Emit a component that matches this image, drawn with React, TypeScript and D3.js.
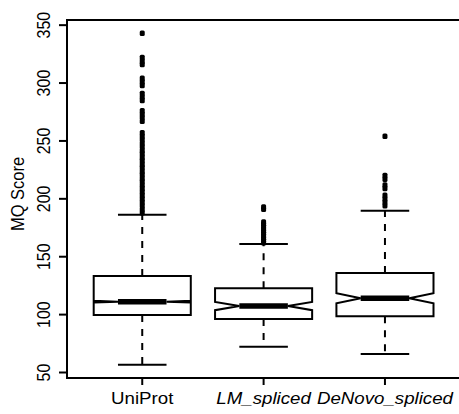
import React from 'react';
import * as d3 from 'd3';

const categories = ['UniProt', 'LM_spliced', 'DeNovo_spliced'];
const italicLabel = [false, true, true];
const whiskerLow = [56.7, 72.3, 66.0];
const q1 = [99.7, 96.2, 98.5];
const median = [111.2, 107.4, 114.1];
const q3 = [133.3, 122.7, 136.0];
const whiskerHigh = [186.3, 161.0, 189.7];
const notchLow = [110.5, 103.8, 109.8];
const notchHigh = [111.9, 111.0, 118.4];

const outliersUniProt = [
  343, 322, 319, 316, 304, 301, 298, 291, 288, 285, 276, 273, 270, 267,
  257, 254, 251, 248, 245, 242, 239, 236, 233, 230, 227, 224, 221, 218,
  215, 212, 209, 206, 203, 200, 197, 194, 191, 188,
];
const outliersLM = [193, 191, 180, 178, 176, 174, 172, 170, 168, 166, 164, 162];
const outliersDeNovo = [254, 220, 217, 212, 209, 203, 200, 197, 194];
const outliers = [outliersUniProt, outliersLM, outliersDeNovo];

const yTicks = [50, 100, 150, 200, 250, 300, 350];

const width = 459;
const height = 414;
const margin = { top: 20, left: 67, bottom: 36 };
const font = '"Liberation Sans", Arial, Helvetica, sans-serif';
// the original image is a little wider than tall, so glyphs look stretched
const stretch = 'scale(1.1,1)';

const App = () => {
  // R-style axis limits: data range widened by 4% on each side
  const all = [...whiskerLow, ...whiskerHigh, ...outliers.flat()];
  const [lo, hi] = d3.extent(all) as [number, number];
  const pad = (hi - lo) * 0.04;

  const y = d3.scaleLinear().domain([lo - pad, hi + pad]).range([height - margin.bottom, margin.top]);
  const x = d3.scaleLinear().domain([0.38, 3.62]).range([margin.left, 460.2]);

  const halfW = 0.4;
  const nf = 0.5;
  const plotBottom = height - margin.bottom;

  return (
    <svg width={width} height={height} style={{ position: 'absolute', left: 0, top: 0, background: 'white' }}>
      {categories.map((c, i) => {
        const at = i + 1;
        const xs = [-1, 1, 1, nf, 1, 1, -1, -1, -nf, -1].map((f) => x(at + f * halfW));
        const ys = [q1[i], q1[i], notchLow[i], median[i], notchHigh[i], q3[i], q3[i], notchHigh[i], median[i], notchLow[i]].map((v) => y(v));
        const boxPath = d3.line()(xs.map((xx, k) => [xx, ys[k]] as [number, number])) + 'Z';
        const cx = x(at);
        return (
          <g key={c}>
            <line x1={cx} x2={cx} y1={y(q3[i])} y2={y(whiskerHigh[i])} stroke="black" strokeWidth={2} strokeDasharray="7,7" />
            <line x1={cx} x2={cx} y1={y(q1[i])} y2={y(whiskerLow[i])} stroke="black" strokeWidth={2} strokeDasharray="7,7" />
            <line x1={x(at - halfW / 2)} x2={x(at + halfW / 2)} y1={y(whiskerHigh[i])} y2={y(whiskerHigh[i])} stroke="black" strokeWidth={2} />
            <line x1={x(at - halfW / 2)} x2={x(at + halfW / 2)} y1={y(whiskerLow[i])} y2={y(whiskerLow[i])} stroke="black" strokeWidth={2} />
            <path d={boxPath} fill="white" stroke="black" strokeWidth={2} strokeLinejoin="miter" />
            <line x1={x(at - nf * halfW)} x2={x(at + nf * halfW)} y1={y(median[i])} y2={y(median[i])} stroke="black" strokeWidth={5.5} />
            {outliers[i].map((v, k) => (
              <rect key={k} x={cx - 2.5} y={y(v) - 2.8} width={5} height={5.6} rx={1.5} fill="black" />
            ))}
          </g>
        );
      })}

      {/* frame */}
      <path d={`M${x(3.62) + 5},${margin.top}H${margin.left}V${plotBottom}H${x(3.62) + 5}`} fill="none" stroke="black" strokeWidth={2} />

      {/* y axis */}
      {yTicks.map((t) => (
        <g key={t}>
          <line x1={margin.left - 8} x2={margin.left} y1={y(t)} y2={y(t)} stroke="black" strokeWidth={2} />
          <text
            transform={`translate(50,${y(t)}) ${stretch} rotate(-90)`}
            textAnchor="middle"
            fontFamily={font}
            fontSize={16}
          >
            {t}
          </text>
        </g>
      ))}
      <text transform={`translate(24,194) ${stretch} rotate(-90)`} textAnchor="middle" fontFamily={font} fontSize={16.5}>
        MQ Score
      </text>

      {/* x axis */}
      {categories.map((c, i) => (
        <g key={c}>
          <line x1={x(i + 1)} x2={x(i + 1)} y1={plotBottom} y2={plotBottom + 7} stroke="black" strokeWidth={2} />
          <text
            transform={`translate(${x(i + 1)},404) ${stretch}`}
            textAnchor="middle"
            fontFamily={font}
            fontSize={17}
            fontStyle={italicLabel[i] ? 'italic' : 'normal'}
          >
            {c}
          </text>
        </g>
      ))}
    </svg>
  );
};

export default App;
